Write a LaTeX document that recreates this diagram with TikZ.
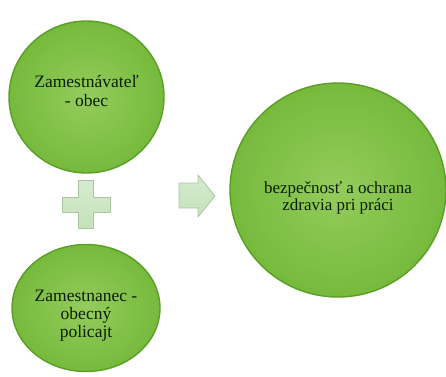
\documentclass[tikz,border=0pt]{standalone}
\usepackage{fontspec}
\setmainfont{Liberation Serif}
\newfontfamily\ballfont{Liberation Serif}
\usetikzlibrary{shapes.geometric}

\definecolor{ballgreen}{RGB}{118,186,60}
\definecolor{balllight}{RGB}{148,204,92}
\definecolor{balledge}{RGB}{90,158,38}
\definecolor{signfill}{RGB}{196,226,186}
\definecolor{signedge}{RGB}{168,198,160}
\definecolor{textdark}{RGB}{10,30,5}

\tikzset{
  ball/.style={ellipse, inner sep=0pt, draw=balledge, line width=1.4pt,
    inner color=balllight, outer color=ballgreen},
  balltext/.style={align=center, text=textdark, inner sep=0pt,
    font=\ballfont\fontsize{17.5}{19}\selectfont},
  sign/.style={draw=signedge, line width=0.8pt, top color=signfill!70!white,
    bottom color=signfill, line join=round}
}

\begin{document}
\begin{tikzpicture}[x=1pt, y=-1pt]

  \useasboundingbox (0,0) rectangle (446,376);

  % the two parties on the left
  \node[ball, minimum width=155pt, minimum height=152pt] (employer) at (86.5,97) {};
  \node[balltext, yshift=6pt] (employer text) at (employer.center)
    {Zamestnávateľ\\- obec};
  \node[ball, minimum width=148pt, minimum height=127pt] (employee) at (86,308) {};
  \node[balltext, yshift=-8pt, font=\ballfont\fontsize{17.5}{18}\selectfont]
    (employee text) at (employee.center) {Zamestnanec -\\obecný\\policajt};

  % the result on the right
  \node[ball, minimum width=216pt, minimum height=214pt] (safety) at (338,190) {};
  \node[balltext, yshift=-8pt, font=\ballfont\fontsize{17}{17.5}\selectfont]
    (safety text) at (safety.center) {bezpečnosť a ochrana\\zdravia pri práci};

  % plus sign
  \draw[sign] (78,180) -- (93,180) -- (93,197) -- (110,197) -- (110,212)
    -- (93,212) -- (93,228) -- (78,228) -- (78,212) -- (62,212)
    -- (62,197) -- (78,197) -- cycle;

  % arrow
  \draw[sign] (179,183) -- (198,183) -- (198,175) -- (215,196) -- (198,217)
    -- (198,208) -- (179,208) -- cycle;

\end{tikzpicture}
\end{document}
